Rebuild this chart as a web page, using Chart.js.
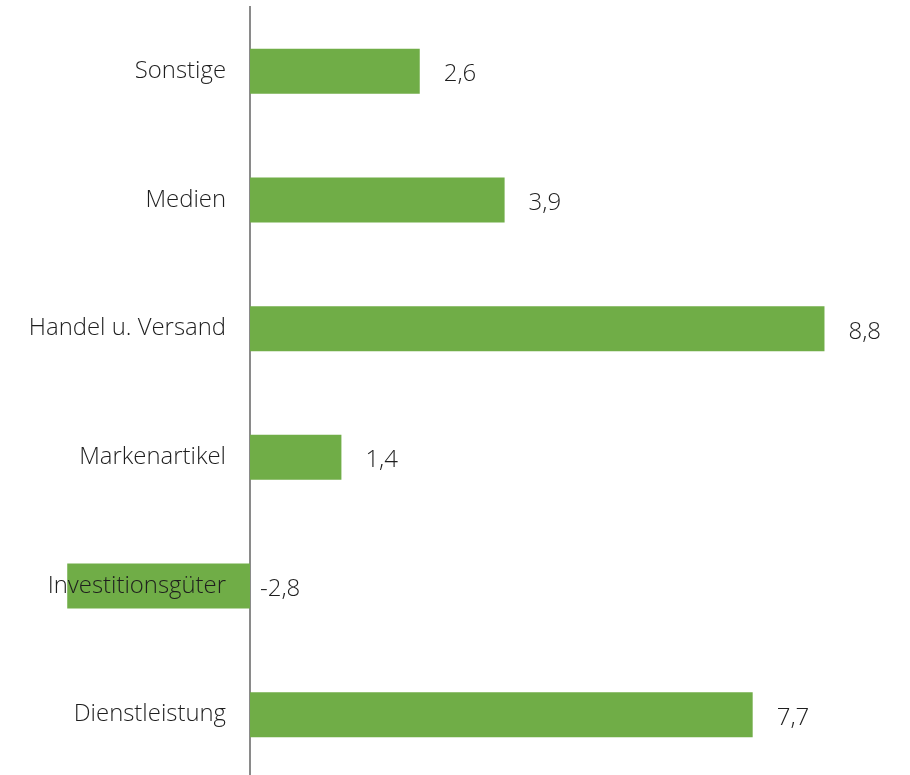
<!DOCTYPE html>
<html lang="de">
<head>
    <meta charset="UTF-8">
    <title>Branchen</title>
    <script src="https://cdn.jsdelivr.net/npm/chart.js"></script>
    <style>
        html, body {
            margin: 0;
            padding: 0;
            background: #ffffff;
            overflow: hidden;
        }

        .wrap {
            width: 910px;
            height: 779px;
        }
    </style>
</head>
<body>

<div class="wrap">
    <canvas id="barChart"></canvas>
</div>

<script>
    const categories = ['Sonstige', 'Medien', 'Handel u. Versand', 'Markenartikel', 'Investitionsgüter', 'Dienstleistung'];
    const values = [2.6, 3.9, 8.8, 1.4, -2.8, 7.7];

    // category names right of zero line are drawn over the bars, like the original
    const categoryLabels = {
        id: 'categoryLabels',
        afterDatasetsDraw(chart) {
            const ctx = chart.ctx;
            const yScale = chart.scales.y;
            const zeroX = chart.scales.x.getPixelForValue(0);
            ctx.save();
            ctx.font = '300 23.9px "Open Sans"';
            ctx.fillStyle = '#1e1e1e';
            ctx.textAlign = 'right';
            ctx.textBaseline = 'middle';
            categories.forEach((name, i) => {
                ctx.fillText(name, zeroX - 24, yScale.getPixelForValue(i));
            });
            ctx.restore();
        }
    };

    const valueLabels = {
        id: 'valueLabels',
        afterDatasetsDraw(chart) {
            const ctx = chart.ctx;
            const meta = chart.getDatasetMeta(0);
            ctx.save();
            ctx.font = '300 24px "Open Sans"';
            ctx.fillStyle = '#1e1e1e';
            ctx.textAlign = 'left';
            ctx.textBaseline = 'middle';
            meta.data.forEach((bar, i) => {
                const v = values[i];
                const x = v >= 0 ? bar.x + 24 : bar.base + 10;
                ctx.fillText(v.toFixed(1).replace('.', ','), x, bar.y + 3);
            });
            ctx.restore();
        }
    };

    new Chart(document.getElementById('barChart').getContext('2d'), {
        type: 'bar',
        data: {
            labels: categories,
            datasets: [{
                data: values,
                backgroundColor: '#70ad47',
                barPercentage: 0.35,
                categoryPercentage: 1.0
            }]
        },
        options: {
            indexAxis: 'y',
            responsive: true,
            maintainAspectRatio: false,
            animation: false,
            layout: {padding: {top: 7, left: 0, right: 0, bottom: 0}},
            plugins: {
                legend: {display: false},
                tooltip: {enabled: false}
            },
            scales: {
                x: {
                    display: false,
                    min: -3.83,
                    max: 10.11
                },
                y: {
                    position: {x: 0},
                    grid: {display: false, drawTicks: false},
                    border: {display: true, color: '#8a8a8a', width: 2},
                    ticks: {display: false}
                }
            }
        },
        plugins: [categoryLabels, valueLabels]
    });
</script>

</body>
</html>
